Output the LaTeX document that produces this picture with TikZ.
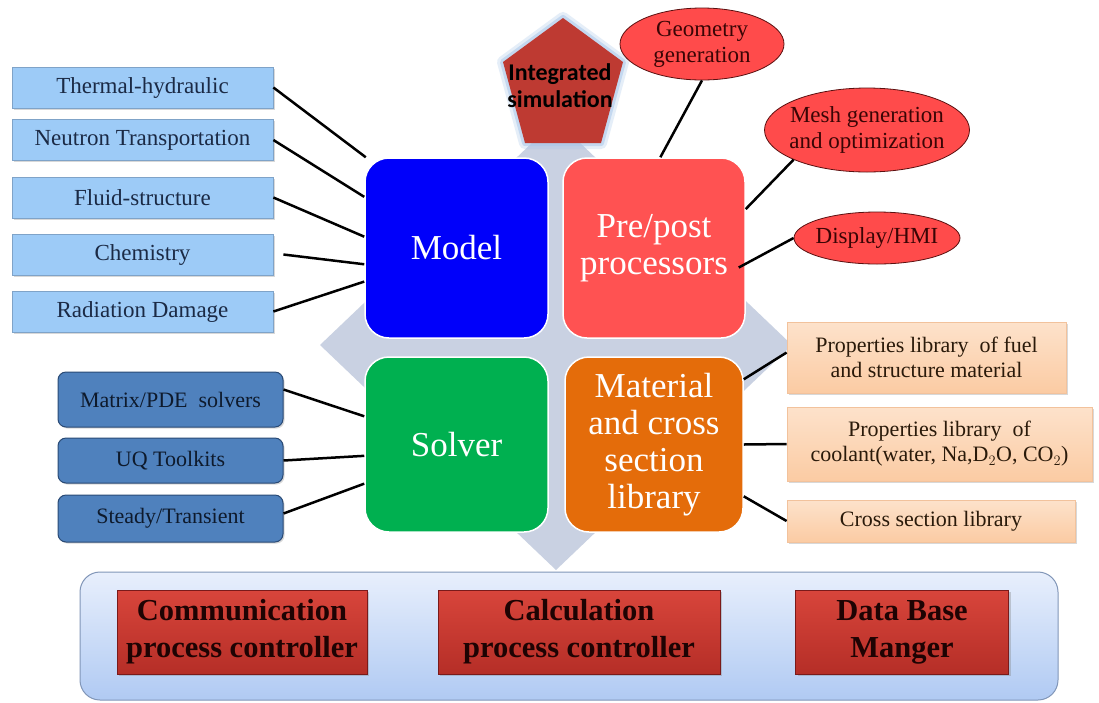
\documentclass[tikz,border=0pt]{standalone}
\usepackage{fontspec}
\setmainfont{Liberation Serif}
\newfontfamily\pentfont{Carlito}
\usetikzlibrary{shadows,calc,shapes.geometric}

\definecolor{diamondgrey}{HTML}{C9D1E2}
\definecolor{modelblue}{HTML}{0000FA}
\definecolor{prered}{HTML}{FF5252}
\definecolor{solgreen}{HTML}{00B050}
\definecolor{matorange}{HTML}{E46C0A}
\definecolor{lbfill}{HTML}{9DCBF7}
\definecolor{lbdraw}{HTML}{7FA3C8}
\definecolor{lbtext}{HTML}{1B2A45}
\definecolor{sbfill}{HTML}{4F81BD}
\definecolor{sbdraw}{HTML}{2A4A75}
\definecolor{sbtext}{HTML}{0E1A2C}
\definecolor{elfill}{HTML}{FF4B4B}
\definecolor{eldraw}{HTML}{5A1010}
\definecolor{eltext}{HTML}{3A0505}
\definecolor{obtop}{HTML}{FDE2CB}
\definecolor{obbot}{HTML}{FBCBA3}
\definecolor{obdraw}{HTML}{F2C29C}
\definecolor{obtext}{HTML}{2A1A0A}
\definecolor{paneltop}{HTML}{E8EFFC}
\definecolor{panelbot}{HTML}{B0CAF3}
\definecolor{paneldraw}{HTML}{8196B8}
\definecolor{redtop}{HTML}{D8453B}
\definecolor{redbot}{HTML}{B52E27}
\definecolor{reddraw}{HTML}{7A1A1A}
\definecolor{redtext}{HTML}{1E0303}
\definecolor{pentfill}{HTML}{BE3A32}
\definecolor{pentglow}{HTML}{A9C7EA}

\newcommand\myQuadFont{\fontsize{35}{37}\selectfont}
\newcommand\myBoxFont{\fontsize{22}{25}\selectfont}
\newcommand\myLeftFont{\fontsize{23}{25}\selectfont}
\newcommand\myEllFont{\fontsize{23}{26}\selectfont}
\newcommand\myRedFont{\fontsize{30.5}{37}\selectfont\bfseries}
\newcommand\myPentFont{\pentfont\bfseries\fontsize{24}{27}\selectfont}

\tikzset{
  quad/.style={rounded corners=24pt, draw=white, line width=1.5pt, text=white,
    font=\myQuadFont, align=center, inner sep=0pt},
  lbox/.style={draw=lbdraw, fill=lbfill, line width=0.8pt, minimum width=261pt,
    minimum height=41pt, inner sep=0pt, text=lbtext, font=\myLeftFont,
    drop shadow={shadow xshift=1.5pt,shadow yshift=-1.5pt,opacity=0.3}},
  sbox/.style={draw=sbdraw, fill=sbfill, line width=1pt, rounded corners=8pt,
    minimum width=225pt, inner sep=0pt, text=sbtext, font=\myBoxFont,
    drop shadow={shadow xshift=1.5pt,shadow yshift=-1.5pt,opacity=0.3}},
  ell/.style={ellipse, draw=eldraw, fill=elfill, line width=0.8pt, inner xsep=-6pt,
    inner ysep=0pt, text=eltext, font=\myEllFont, align=center},
  obox/.style={draw=obdraw, top color=obtop, bottom color=obbot, line width=0.8pt,
    inner sep=0pt, text=obtext, font=\myBoxFont, align=center,
    drop shadow={shadow xshift=1.5pt,shadow yshift=-1.5pt,opacity=0.3}},
  redbox/.style={draw=reddraw, top color=redtop, bottom color=redbot, line width=0.8pt,
    minimum height=84pt, inner sep=0pt, text=redtext, font=\myRedFont, align=center,
    drop shadow={shadow xshift=2pt,shadow yshift=-2pt,opacity=0.35}},
  panel/.style={draw=paneldraw, top color=paneltop, bottom color=panelbot,
    line width=1pt, rounded corners=20pt, inner sep=0pt},
  conn/.style={draw=black, line width=2.5pt},
}

\begin{document}
\begin{tikzpicture}[x=1pt,y=-1pt]
\useasboundingbox (0,0) rectangle (1099,702);
\fill[white] (0,0) rectangle (1099,702);

% background diamond
\fill[diamondgrey] (320,345) -- (556,120) -- (792,345) -- (556,570) -- cycle;

% bottom panel
\node[panel, minimum width=978pt, minimum height=128pt] (panel) at (569,636) {};
\node[redbox, minimum width=250pt] (comm) at (242,632) {Communication\\process controller};
\node[redbox, minimum width=282pt] (calcpc) at (579,632) {Calculation\\process controller};
\node[redbox, minimum width=213pt] (dbm) at (902,632) {Data Base\\Manger};

% quadrants
\node[quad, fill=modelblue, minimum width=183pt, minimum height=180pt] (model) at (456.5,248) {Model};
\node[quad, fill=prered, minimum width=182pt, minimum height=180pt] (pre) at (654,248) {Pre/post\\processors};
\node[quad, fill=solgreen, minimum width=183pt, minimum height=175pt] (solver) at (456.5,444.5) {Solver};
\node[quad, fill=matorange, minimum width=178pt, minimum height=175pt] (mat) at (654,444.5) {Material\\and cross\\section\\library};

% pentagon
\draw[pentglow, line width=12pt, line join=round, opacity=0.3]
  (563,18) -- (623,62) -- (601,143) -- (525,143) -- (503,62) -- cycle;
\draw[pentglow, line width=6pt, line join=round, opacity=0.55]
  (563,18) -- (623,62) -- (601,143) -- (525,143) -- (503,62) -- cycle;
\fill[pentfill] (563,18) -- (623,62) -- (601,143) -- (525,143) -- (503,62) -- cycle;
\node[font=\myPentFont, text=black, align=center, inner sep=0pt] (integ) at (560,86) {Integrated\\simulation};

% left boxes
\node[lbox] (th) at (142.5,87.5) {Thermal-hydraulic};
\node[lbox] (nt) at (142.5,140) {Neutron Transportation};
\node[lbox] (fs) at (142.5,197.5) {Fluid-structure};
\node[lbox] (chem) at (142.5,254.5) {Chemistry};
\node[lbox] (rd) at (142.5,311.5) {Radiation Damage};

% solver boxes
\node[sbox, minimum height=55pt] (mpde) at (170.5,399.5) {Matrix/PDE\ \ solvers};
\node[sbox, minimum height=45pt] (uq) at (170.5,460.5) {UQ Toolkits};
\node[sbox, minimum height=47pt] (steady) at (170.5,518.5) {Steady/Transient};

% ellipses
\node[ell, minimum width=164pt, minimum height=72pt] (geo) at (702,44) {Geometry\\generation};
\node[ell, minimum width=205pt, minimum height=84pt] (mesh) at (867,130) {Mesh generation\\and optimization};
\node[ell, minimum width=166pt, minimum height=52pt] (disp) at (877,238) {Display/HMI};

% orange boxes
\node[obox, minimum width=279pt, minimum height=71pt] (fuel) at (926.5,357.5) {Properties library\ \ of fuel\\and structure material};
\node[obox, minimum width=305pt, minimum height=74pt] (cool) at (939.5,444) {Properties library\ \ of\\coolant(water, Na,D$_2$O, CO$_2$)};
\node[obox, minimum width=288pt, minimum height=42pt] (xsec) at (931,521) {Cross section library};

% connectors
\draw[conn] (th.east) -- (model.135);
\draw[conn] (nt.east) -- (model.151.3);
\draw[conn] (fs.east) -- (model.173);
\draw[conn] ([xshift=10pt]chem.east) -- (model.190.5);
\draw[conn] (rd.east) -- (model.200.9);

\draw[conn] ([yshift=10pt]mpde.east) -- (solver.163.8);
\draw[conn] (uq.east) -- (solver.187.2);
\draw[conn] ([yshift=5pt]steady.east) -- (solver.203.9);

\draw[conn] (geo.south) -- (pre.86);
\draw[conn] (mesh.202) -- (pre.23.7);
\draw[conn] (disp.west) -- ($(pre.-12)+(-7,0)$);

\draw[conn] (mat.36.8) -- ([yshift=5pt]fuel.west);
\draw[conn] (mat.east) -- (cool.west);
\draw[conn] (mat.-30.5) -- (xsec.west);
\end{tikzpicture}
\end{document}
